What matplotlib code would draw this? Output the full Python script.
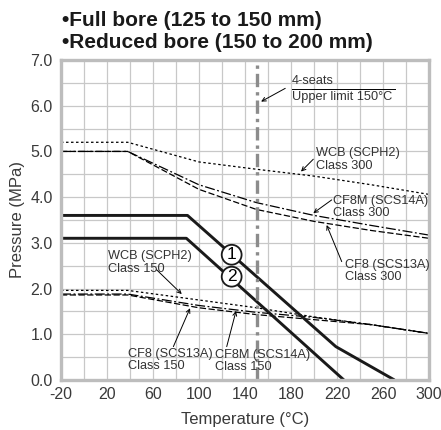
import numpy as np
import matplotlib.pyplot as plt

plt.rcParams['font.family'] = ['Liberation Sans', 'DejaVu Sans']
plt.rcParams['axes.unicode_minus'] = False

# allowable pressure curves (MPa) vs temperature (deg C)
temps = [-20, 38, 100, 150, 200, 250, 300]
wcb_300 = [5.2, 5.2, 4.77, 4.61, 4.46, 4.27, 4.06]
cf8m_300 = [5.0, 5.0, 4.27, 3.88, 3.60, 3.38, 3.17]
cf8_300 = [5.0, 5.0, 4.17, 3.73, 3.47, 3.27, 3.10]
wcb_150 = [1.96, 1.96, 1.75, 1.58, 1.38, 1.21, 1.02]
cf8m_150 = [1.88, 1.88, 1.63, 1.48, 1.37, 1.21, 1.02]
cf8_150 = [1.86, 1.86, 1.58, 1.43, 1.32, 1.21, 1.02]

# seat limits
seat1_t = [-20, 90, 219, 270]
seat1_p = [3.6, 3.6, 0.73, 0.0]
seat2_t = [-20, 89, 226]
seat2_p = [3.1, 3.1, 0.0]

seat_limit_temp = 150

fig = plt.figure(figsize=(4.41, 4.30), dpi=100)
ax = fig.add_axes([61/441, 50/430, 368/441, 320/430])

ax.plot(temps, wcb_300, color='black', lw=0.9, ls=(0, (2, 2)))
ax.plot(temps, cf8m_300, color='black', lw=0.9, ls=(0, (8, 2, 1.5, 2)))
ax.plot(temps, cf8_300, color='black', lw=0.9, ls=(0, (5, 2)))
ax.plot(temps, wcb_150, color='black', lw=0.9, ls=(0, (2, 2)))
ax.plot(temps, cf8m_150, color='black', lw=0.9, ls=(0, (8, 2, 1.5, 2)))
ax.plot(temps, cf8_150, color='black', lw=0.9, ls=(0, (5, 2)))

ax.plot(seat1_t, seat1_p, color='#1a1a1a', lw=2.1, solid_capstyle='butt')
ax.plot(seat2_t, seat2_p, color='#1a1a1a', lw=2.1, solid_capstyle='butt')

ax.axvline(seat_limit_temp, color='#8c8c8c', lw=2.4, ls=(0, (4, 1.5, 1, 1.5)))

ax.set_xlim(-20, 300)
ax.set_ylim(0, 7)
ax.set_xticks(np.arange(-20, 301, 40))
ax.set_yticks(np.arange(0, 7.1, 1.0))
ax.set_yticklabels([f"{v:.1f}" for v in np.arange(0, 7.1, 1.0)])
ax.set_xticks(np.arange(-20, 301, 20), minor=True)
ax.set_yticks(np.arange(0, 7.1, 0.5), minor=True)
ax.grid(which='both', color='#c8c8c8', lw=0.9)
ax.set_axisbelow(True)
ax.tick_params(which='both', length=0)
ax.tick_params(axis='x', pad=5, labelsize=11.5, labelcolor='#3a3a3a')
ax.tick_params(axis='y', pad=6, labelsize=11.5, labelcolor='#3a3a3a')
for s in ax.spines.values():
    s.set_color('#bdbdbd')
    s.set_linewidth(2.4)

ax.set_xlabel("Temperature (°C)", fontsize=12, color='#3a3a3a', labelpad=7)
ax.set_ylabel("Pressure (MPa)", fontsize=12, color='#3a3a3a', labelpad=4)

fig.text(62/441, 1 - 20/430, "•Full bore (125 to 150 mm)", fontsize=15,
         fontweight='bold', va='center', color='#1a1a1a')
fig.text(62/441, 1 - 43/430, "•Reduced bore (150 to 200 mm)", fontsize=15,
         fontweight='bold', va='center', color='#1a1a1a')

arrow = dict(arrowstyle='->', lw=0.7, color='black', shrinkA=0, shrinkB=0,
             mutation_scale=7)
tc = '#333333'
fs = 9.2
lsp = 1.05

ax.text(181, 6.54, "4-seats", fontsize=fs, color=tc, va='center')
ax.plot([181, 270], [6.37, 6.37], color='black', lw=0.7)
ax.text(181, 6.19, "Upper limit 150°C", fontsize=fs, color=tc, va='center')
ax.annotate("", xy=(154, 6.09), xytext=(175, 6.38), arrowprops=arrow)

ax.text(201.7, 4.82, "WCB (SCPH2)\nClass 300", fontsize=fs, color=tc,
        va='center', linespacing=lsp)
ax.annotate("", xy=(188.7, 4.56), xytext=(199.4, 4.83), arrowprops=arrow)

ax.text(216.8, 3.79, "CF8M (SCS14A)\nClass 300", fontsize=fs, color=tc,
        va='center', linespacing=lsp)
ax.annotate("", xy=(199.4, 3.65), xytext=(215.4, 3.94), arrowprops=arrow)

ax.text(227, 2.39, "CF8 (SCS13A)\nClass 300", fontsize=fs, color=tc,
        va='center', linespacing=lsp)
ax.annotate("", xy=(211, 3.39), xytext=(224.1, 2.59), arrowprops=arrow)

ax.text(21.2, 2.57, "WCB (SCPH2)\nClass 150", fontsize=fs, color=tc,
        va='center', linespacing=lsp)
ax.annotate("", xy=(85, 1.88), xytext=(63.2, 2.41), arrowprops=arrow)

ax.text(38.5, 0.44, "CF8 (SCS13A)\nClass 150", fontsize=fs, color=tc,
        va='center', linespacing=lsp)
ax.annotate("", xy=(92.2, 1.57), xytext=(77.7, 0.73), arrowprops=arrow)

ax.text(113.9, 0.42, "CF8M (SCS14A)\nClass 150", fontsize=fs, color=tc,
        va='center', linespacing=lsp)
ax.annotate("", xy=(132.2, 1.51), xytext=(124.1, 0.73), arrowprops=arrow)

circ = dict(boxstyle='circle,pad=0.14', fc='white', ec='#1a1a1a', lw=1.3)
ax.text(128.4, 2.74, "1", fontsize=12.5, ha='center', va='center', bbox=circ)
ax.text(128.4, 2.26, "2", fontsize=12.5, ha='center', va='center', bbox=circ)

fig.savefig("out.png", dpi=100)
